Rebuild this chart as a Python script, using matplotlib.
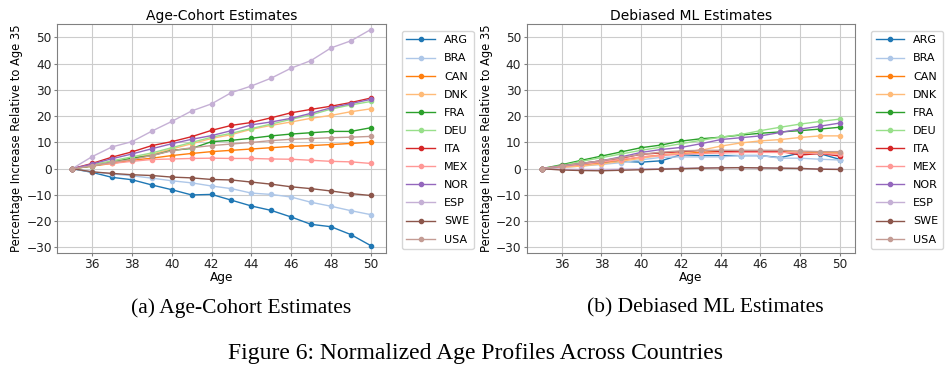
import matplotlib
matplotlib.use("Agg")
import matplotlib.pyplot as plt

ages = list(range(35, 51))
countries = ["ARG", "BRA", "CAN", "DNK", "FRA", "DEU", "ITA", "MEX", "NOR", "ESP", "SWE", "USA"]
colors = ["#1f77b4", "#aec7e8", "#ff7f0e", "#ffbb78", "#2ca02c", "#98df8a",
          "#d62728", "#ff9896", "#9467bd", "#c5b0d5", "#8c564b", "#c49c94"]

# Age-cohort estimates (age 35 .. 50)
ac_ARG = [0, -1.4, -3.3, -4.2, -6.2, -8.0, -10.0, -9.8, -12.0, -14.2, -15.9, -18.4, -21.2, -22.1, -25.1, -29.3]
ac_BRA = [0, -1.2, -2.0, -2.7, -3.6, -4.6, -5.4, -6.6, -7.6, -9.3, -9.8, -10.8, -12.8, -14.3, -16.0, -17.5]
ac_CAN = [0, 1.0, 2.0, 3.2, 4.0, 5.0, 5.8, 6.5, 7.0, 7.5, 8.0, 8.5, 8.8, 9.2, 9.6, 10.1]
ac_DNK = [0, 1.2, 2.5, 4.0, 5.5, 7.5, 9.5, 11.5, 13.0, 15.0, 16.5, 17.8, 19.2, 20.3, 21.7, 22.8]
ac_FRA = [0, 1.0, 2.5, 4.0, 5.0, 7.0, 7.7, 10.3, 10.8, 11.6, 12.5, 13.2, 13.7, 14.2, 14.2, 15.6]
ac_DEU = [0, 1.5, 3.0, 4.5, 6.0, 8.0, 10.0, 12.0, 13.5, 15.3, 17.0, 18.8, 20.5, 22.7, 24.3, 25.6]
ac_ITA = [0, 2.0, 4.4, 6.4, 8.8, 10.3, 12.2, 14.6, 16.5, 17.6, 19.4, 21.3, 22.6, 23.8, 25.2, 26.9]
ac_MEX = [0, 1.3, 2.0, 2.8, 3.5, 3.7, 3.9, 4.0, 3.9, 3.9, 3.7, 3.6, 3.2, 2.8, 2.6, 2.0]
ac_NOR = [0, 1.8, 3.8, 5.6, 7.6, 9.5, 11.2, 12.6, 14.5, 16.7, 17.8, 19.2, 21.1, 23.2, 24.8, 26.4]
ac_ESP = [0, 4.6, 8.3, 10.3, 14.3, 18.0, 22.0, 24.7, 29.0, 31.5, 34.5, 38.3, 41.2, 46.0, 48.7, 53.0]
ac_SWE = [0, -1.2, -1.8, -2.3, -2.6, -3.2, -3.5, -4.1, -4.3, -5.1, -5.9, -6.9, -7.6, -8.5, -9.5, -10.2]
ac_USA = [0, 1.0, 2.5, 3.5, 5.0, 6.8, 8.0, 8.8, 9.4, 10.0, 10.7, 11.2, 11.5, 11.8, 12.0, 12.3]

# Debiased ML estimates (age 35 .. 50)
ml_ARG = [0, 0.8, 1.5, 2.2, 2.8, 2.5, 3.0, 5.3, 5.0, 5.0, 5.0, 5.0, 4.2, 6.0, 5.7, 3.5]
ml_BRA = [0, 0.5, 1.0, 1.6, 2.3, 3.4, 4.3, 4.5, 4.5, 4.5, 5.0, 5.0, 4.0, 4.0, 3.6, 3.3]
ml_CAN = [0, 0.8, 1.5, 2.3, 3.3, 4.4, 5.2, 5.8, 6.2, 6.5, 6.5, 6.5, 6.5, 6.2, 6.0, 6.0]
ml_DNK = [0, 0.5, 1.0, 1.8, 2.8, 4.0, 5.0, 6.0, 7.0, 8.6, 9.8, 10.6, 11.1, 11.9, 12.5, 12.5]
ml_FRA = [0, 1.5, 3.2, 4.8, 6.4, 8.0, 9.0, 10.5, 11.4, 12.0, 12.8, 13.5, 14.0, 14.5, 15.1, 15.8]
ml_DEU = [0, 1.2, 2.8, 4.2, 5.6, 7.0, 8.2, 9.5, 10.8, 12.0, 13.0, 14.5, 15.8, 17.0, 18.0, 18.9]
ml_ITA = [0, 1.0, 2.0, 3.0, 4.0, 5.5, 6.0, 6.5, 7.0, 6.6, 6.6, 6.6, 6.6, 5.2, 5.8, 4.8]
ml_MEX = [0, 0.8, 1.6, 2.5, 3.5, 4.5, 5.0, 5.5, 5.8, 6.0, 6.2, 6.2, 6.2, 6.0, 5.8, 5.5]
ml_NOR = [0, 1.0, 2.0, 3.0, 4.5, 6.2, 7.3, 8.1, 9.5, 11.1, 11.8, 12.5, 13.8, 15.1, 16.2, 17.4]
ml_ESP = [0, -0.2, -0.3, -0.3, -0.2, -0.1, 0.0, 0.1, 0.3, 0.4, 0.4, 0.3, 0.2, 0.1, -0.1, -0.2]
ml_SWE = [0, -0.5, -0.7, -0.8, -0.6, -0.4, -0.2, 0.0, 0.2, 0.3, 0.4, 0.3, 0.2, 0.1, -0.2, -0.3]
ml_USA = [0, 1.0, 2.0, 3.0, 4.2, 5.5, 6.3, 6.8, 7.0, 7.0, 7.0, 7.0, 7.0, 6.7, 6.5, 6.5]

ac_series = [ac_ARG, ac_BRA, ac_CAN, ac_DNK, ac_FRA, ac_DEU, ac_ITA, ac_MEX, ac_NOR, ac_ESP, ac_SWE, ac_USA]
ml_series = [ml_ARG, ml_BRA, ml_CAN, ml_DNK, ml_FRA, ml_DEU, ml_ITA, ml_MEX, ml_NOR, ml_ESP, ml_SWE, ml_USA]

titles = ["Age-Cohort Estimates", "Debiased ML Estimates"]
captions = ["(a) Age-Cohort Estimates", "(b) Debiased ML Estimates"]
figure_caption = "Figure 6: Normalized Age Profiles Across Countries"
xticks = [36, 38, 40, 42, 44, 46, 48, 50]
yticks = [-30, -20, -10, 0, 10, 20, 30, 40, 50]

fig = plt.figure(figsize=(9.52, 3.72), dpi=100)
W, H = 952, 372
positions = [(57.3, 385.7), (526.7, 855.0)]
top_px, bot_px = 24.3, 252.7

for i, (series_set, (x0, x1)) in enumerate(zip([ac_series, ml_series], positions)):
    ax = fig.add_axes([x0 / W, 1 - bot_px / H, (x1 - x0) / W, (bot_px - top_px) / H])
    for name, vals, c in zip(countries, series_set, colors):
        ax.plot(ages, vals, marker="o", markersize=3, linewidth=1, color=c, label=name)
    ax.set_ylim(-32, 55)
    ax.set_xticks(xticks)
    ax.set_yticks(yticks)
    ax.grid(True, color="#cccccc", linewidth=0.8)
    ax.set_axisbelow(True)
    for s in ax.spines.values():
        s.set_color("#808080")
    ax.tick_params(labelsize=8.7, colors="#222222", length=2.5, pad=1.5, color="#808080")
    ax.set_title(titles[i], fontsize=10, pad=3)
    ax.set_xlabel("Age", fontsize=8.7, labelpad=0)
    ax.set_ylabel("Percentage Increase Relative to Age 35", fontsize=8.3, labelpad=2)
    ax.legend(loc="upper left", bbox_to_anchor=(1.049, 0.971), borderaxespad=0,
              fontsize=8, handlelength=2.6, labelspacing=0.73, framealpha=0.8)

for cap, xc in zip(captions, [241, 705]):
    fig.text(xc / W, 1 - 308 / H, cap, ha="center", va="center",
             fontsize=15.5, family="Liberation Serif")
fig.text(476 / W, 1 - 354 / H, figure_caption, ha="center", va="center",
         fontsize=17, family="Liberation Serif")

fig.savefig("out.png", dpi=100, facecolor="white")
